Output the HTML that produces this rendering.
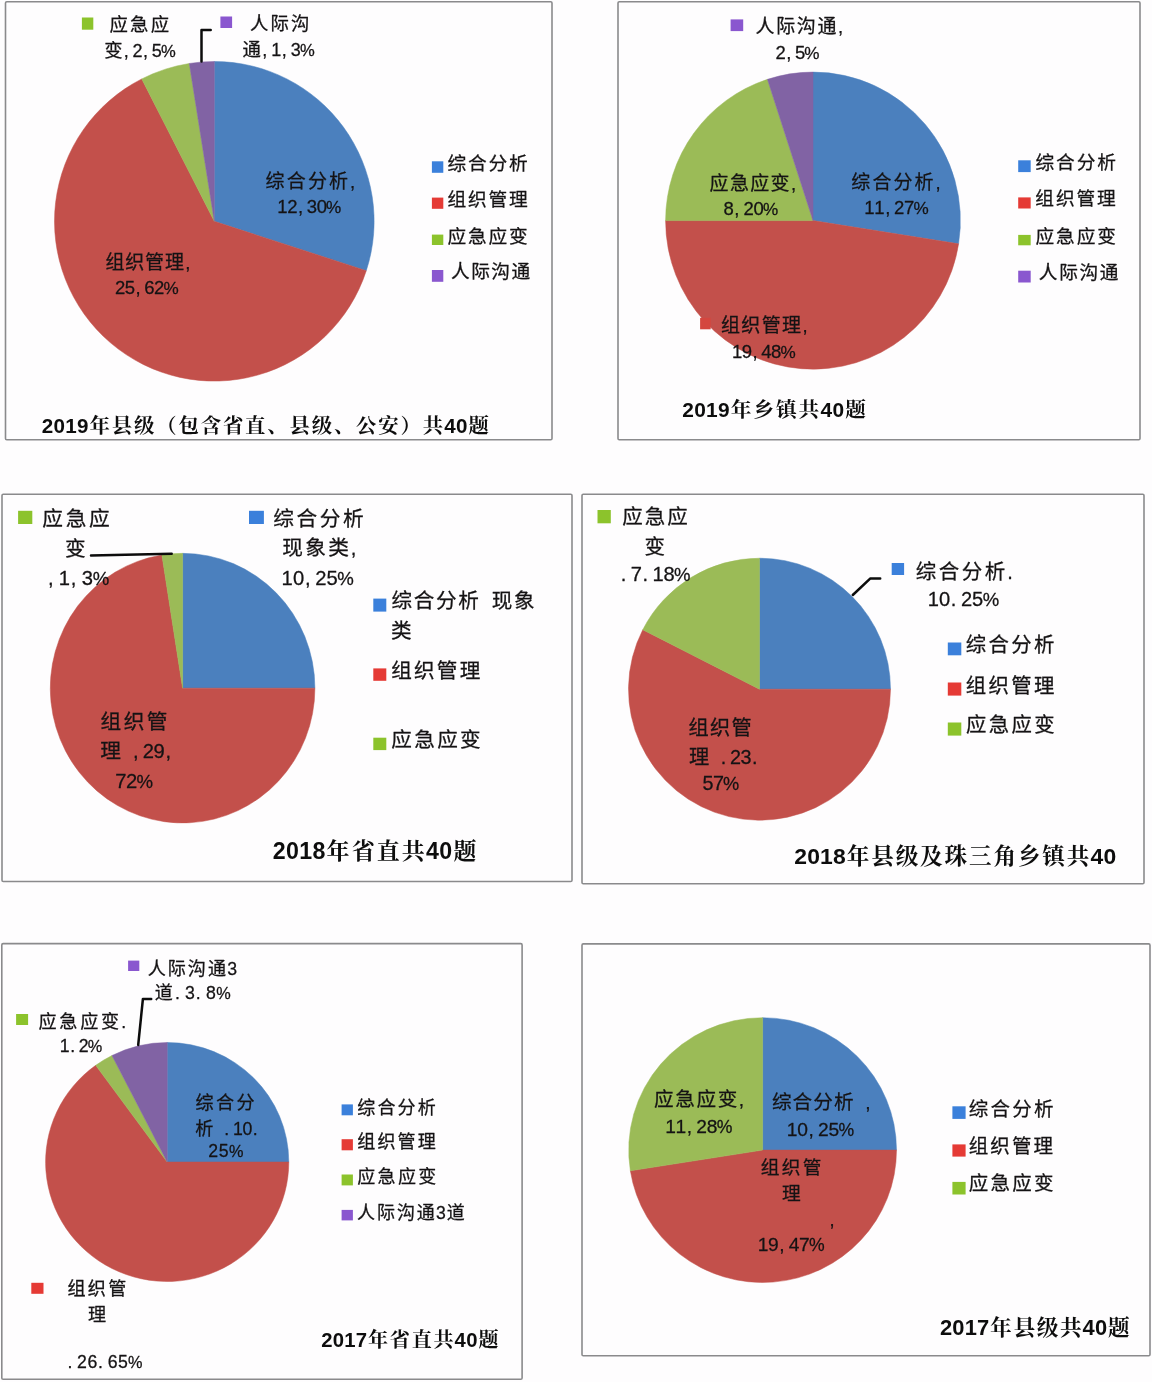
<!DOCTYPE html>
<html lang="zh-CN">
<head>
<meta charset="utf-8">
<title>题型分布饼图</title>
<style>
html,body{margin:0;padding:0;background:#fefdfe;}
body{width:1152px;height:1382px;overflow:hidden;}
svg{display:block;}
text{white-space:pre;}
.l{font-family:"Liberation Sans","Noto Sans CJK SC",sans-serif;font-weight:400;fill:#151314;stroke:#151314;stroke-width:0.28px;stroke-linejoin:round;}
.t{font-family:"Liberation Sans","Noto Serif CJK SC",serif;font-weight:bold;fill:#0d0d0d;}
</style>
</head>
<body>
<svg width="1152" height="1382" viewBox="0 0 1152 1382">
<rect x="0" y="0" width="1152" height="1382" fill="#fefdfe"/>
<rect x="5.5" y="1.8" width="546.5" height="438.0" rx="1.3" fill="none" stroke="#8a8a8c" stroke-width="1.6"/>
<rect x="618" y="1.8" width="522.0" height="438.0" rx="1.3" fill="none" stroke="#8a8a8c" stroke-width="1.6"/>
<rect x="2" y="494.2" width="570.0" height="387.3" rx="1.3" fill="none" stroke="#8a8a8c" stroke-width="1.6"/>
<rect x="582" y="494.2" width="562.0" height="389.6" rx="1.3" fill="none" stroke="#8a8a8c" stroke-width="1.6"/>
<rect x="1.8" y="943.6" width="520.3" height="435.6" rx="1.3" fill="none" stroke="#8a8a8c" stroke-width="1.6"/>
<rect x="582" y="943.9" width="568.0" height="411.9" rx="1.3" fill="none" stroke="#8a8a8c" stroke-width="1.6"/>
<g id="pies">
<path d="M214.30,221.30 L214.30,61.50 A159.80,159.80 0 0 1 366.28,270.68 Z" fill="#4b80be" stroke="#4b80be" stroke-width="0.5" stroke-linejoin="round"/>
<path d="M214.30,221.30 L366.28,270.68 A159.80,159.80 0 1 1 141.75,78.92 Z" fill="#c3504b" stroke="#c3504b" stroke-width="0.5" stroke-linejoin="round"/>
<path d="M214.30,221.30 L141.75,78.92 A159.80,159.80 0 0 1 189.30,63.47 Z" fill="#9bbb57" stroke="#9bbb57" stroke-width="0.5" stroke-linejoin="round"/>
<path d="M214.30,221.30 L189.30,63.47 A159.80,159.80 0 0 1 214.30,61.50 Z" fill="#8163a4" stroke="#8163a4" stroke-width="0.5" stroke-linejoin="round"/>
<path d="M813.00,220.60 L813.00,72.10 A147.40,148.50 0 0 1 958.59,243.83 Z" fill="#4b80be" stroke="#4b80be" stroke-width="0.5" stroke-linejoin="round"/>
<path d="M813.00,220.60 L958.59,243.83 A147.40,148.50 0 0 1 665.60,220.60 Z" fill="#c3504b" stroke="#c3504b" stroke-width="0.5" stroke-linejoin="round"/>
<path d="M813.00,220.60 L665.60,220.60 A147.40,148.50 0 0 1 767.45,79.37 Z" fill="#9bbb57" stroke="#9bbb57" stroke-width="0.5" stroke-linejoin="round"/>
<path d="M813.00,220.60 L767.45,79.37 A147.40,148.50 0 0 1 813.00,72.10 Z" fill="#8163a4" stroke="#8163a4" stroke-width="0.5" stroke-linejoin="round"/>
<path d="M182.60,688.15 L182.60,553.35 A132.30,134.80 0 0 1 314.90,688.15 Z" fill="#4b80be" stroke="#4b80be" stroke-width="0.5" stroke-linejoin="round"/>
<path d="M182.60,688.15 L314.90,688.15 A132.30,134.80 0 1 1 161.90,555.01 Z" fill="#c3504b" stroke="#c3504b" stroke-width="0.5" stroke-linejoin="round"/>
<path d="M182.60,688.15 L161.90,555.01 A132.30,134.80 0 0 1 182.60,553.35 Z" fill="#9bbb57" stroke="#9bbb57" stroke-width="0.5" stroke-linejoin="round"/>
<path d="M759.50,689.20 L759.50,558.20 A131.00,131.00 0 0 1 890.50,689.20 Z" fill="#4b80be" stroke="#4b80be" stroke-width="0.5" stroke-linejoin="round"/>
<path d="M759.50,689.20 L890.50,689.20 A131.00,131.00 0 1 1 642.78,629.73 Z" fill="#c3504b" stroke="#c3504b" stroke-width="0.5" stroke-linejoin="round"/>
<path d="M759.50,689.20 L642.78,629.73 A131.00,131.00 0 0 1 759.50,558.20 Z" fill="#9bbb57" stroke="#9bbb57" stroke-width="0.5" stroke-linejoin="round"/>
<path d="M167.20,1162.00 L167.20,1042.50 A121.60,119.50 0 0 1 288.80,1162.00 Z" fill="#4b80be" stroke="#4b80be" stroke-width="0.5" stroke-linejoin="round"/>
<path d="M167.20,1162.00 L288.80,1162.00 A121.60,119.50 0 1 1 95.73,1065.32 Z" fill="#c3504b" stroke="#c3504b" stroke-width="0.5" stroke-linejoin="round"/>
<path d="M167.20,1162.00 L95.73,1065.32 A121.60,119.50 0 0 1 111.99,1055.52 Z" fill="#9bbb57" stroke="#9bbb57" stroke-width="0.5" stroke-linejoin="round"/>
<path d="M167.20,1162.00 L111.99,1055.52 A121.60,119.50 0 0 1 167.20,1042.50 Z" fill="#8163a4" stroke="#8163a4" stroke-width="0.5" stroke-linejoin="round"/>
<path d="M762.60,1150.10 L762.60,1017.70 A133.90,132.40 0 0 1 896.50,1150.10 Z" fill="#4b80be" stroke="#4b80be" stroke-width="0.5" stroke-linejoin="round"/>
<path d="M762.60,1150.10 L896.50,1150.10 A133.90,132.40 0 0 1 630.35,1170.81 Z" fill="#c3504b" stroke="#c3504b" stroke-width="0.5" stroke-linejoin="round"/>
<path d="M762.60,1150.10 L630.35,1170.81 A133.90,132.40 0 0 1 762.60,1017.70 Z" fill="#9bbb57" stroke="#9bbb57" stroke-width="0.5" stroke-linejoin="round"/>
</g>
<g id="markers">
<rect x="81.9" y="17.5" width="11.4" height="12.2" fill="#8cc32c"/>
<rect x="220.4" y="16.5" width="11.7" height="11.5" fill="#8a57cf"/>
<rect x="431.9" y="161.3" width="11.4" height="11.5" fill="#3b80db"/>
<rect x="431.9" y="197.6" width="11.4" height="11.2" fill="#e53a35"/>
<rect x="431.9" y="234.6" width="11.4" height="10.4" fill="#8cc32c"/>
<rect x="431.9" y="270.0" width="11.4" height="11.8" fill="#8a57cf"/>
<rect x="730.6" y="19.4" width="12.6" height="11.7" fill="#8a57cf"/>
<rect x="700.1" y="317.8" width="10.6" height="11.5" fill="#d4463f"/>
<rect x="1018.2" y="160.3" width="12.5" height="11.8" fill="#3b80db"/>
<rect x="1018.2" y="197.4" width="12.5" height="11.1" fill="#e53a35"/>
<rect x="1018.2" y="234.9" width="12.5" height="10.4" fill="#8cc32c"/>
<rect x="1018.2" y="270.7" width="12.5" height="11.8" fill="#8a57cf"/>
<rect x="18.1" y="510.8" width="14.2" height="13.2" fill="#8cc32c"/>
<rect x="249.0" y="510.8" width="14.9" height="13.2" fill="#3b80db"/>
<rect x="373.3" y="598.6" width="13.0" height="13.0" fill="#3b80db"/>
<rect x="373.3" y="668.4" width="13.0" height="12.4" fill="#e53a35"/>
<rect x="373.3" y="737.7" width="13.0" height="12.4" fill="#8cc32c"/>
<rect x="597.5" y="510.0" width="13.3" height="13.3" fill="#8cc32c"/>
<rect x="891.7" y="563.0" width="12.4" height="12.0" fill="#3b80db"/>
<rect x="947.8" y="642.5" width="13.5" height="12.8" fill="#3b80db"/>
<rect x="947.8" y="682.5" width="13.5" height="13.1" fill="#e53a35"/>
<rect x="947.8" y="722.5" width="13.5" height="13.1" fill="#8cc32c"/>
<rect x="128.1" y="960.6" width="11.2" height="10.4" fill="#8a57cf"/>
<rect x="16.1" y="1014.0" width="12.0" height="11.0" fill="#8cc32c"/>
<rect x="31.3" y="1282.8" width="12.2" height="11.0" fill="#e53a35"/>
<rect x="341.6" y="1104.4" width="11.3" height="10.9" fill="#3b80db"/>
<rect x="341.6" y="1139.2" width="11.3" height="11.1" fill="#e53a35"/>
<rect x="341.6" y="1174.5" width="11.3" height="10.9" fill="#8cc32c"/>
<rect x="341.6" y="1209.9" width="11.3" height="10.5" fill="#8a57cf"/>
<rect x="952.4" y="1106.3" width="13.2" height="12.6" fill="#3b80db"/>
<rect x="952.4" y="1144.4" width="13.2" height="12.2" fill="#e53a35"/>
<rect x="952.4" y="1181.9" width="13.2" height="12.6" fill="#8cc32c"/>
</g>
<g id="leaders" fill="none" stroke="#0c0c0c" stroke-width="2.5" stroke-linejoin="round" stroke-linecap="round">
<polyline points="201.5,61.5 201.5,29.9 210.7,29.9"/>
<polyline points="91.0,555.4 171.7,553.7"/>
<polyline points="852.8,595.0 870.4,578.4 880.2,578.4"/>
<polyline points="138.2,1045.0 142.9,999.0 151.2,999.0"/>
</g>
<g id="texts">
<text id="p1a1" class="l" y="30.5" font-size="18.4" text-anchor="middle"><tspan x="118.8 139.3 159.9">应急应</tspan></text>
<text id="p1a2" class="l" y="56.5" font-size="18.4" text-anchor="middle"><tspan x="113.4">变</tspan><tspan x="126.2 137.5 145.5 156.8" font-size="18.0">,2,5</tspan><tspan x="168.4" font-size="16.6">%</tspan></text>
<text id="p1b1" class="l" y="30.1" font-size="18.4" text-anchor="middle"><tspan x="259.2 279.7 300.2">人际沟</tspan></text>
<text id="p1b2" class="l" y="55.9" font-size="18.4" text-anchor="middle"><tspan x="251.8">通</tspan><tspan x="264.7 276.2 284.3 295.7" font-size="18.0">,1,3</tspan><tspan x="307.4" font-size="16.6">%</tspan></text>
<text id="p1c1" class="l" y="188.1" font-size="19.0" text-anchor="middle"><tspan x="275.0 296.2 317.4 338.6">综合分析</tspan><tspan x="352.5" font-size="18.5">,</tspan></text>
<text id="p1c2" class="l" y="212.8" font-size="19.0" text-anchor="middle"><tspan x="282.5 292.3 300.5 311.9 321.8" font-size="18.5">12,30</tspan><tspan x="333.5" font-size="17.1">%</tspan></text>
<text id="p1d1" class="l" y="268.8" font-size="19.0" text-anchor="middle"><tspan x="114.9 134.8 154.6 174.5">组织管理</tspan><tspan x="187.7" font-size="18.5">,</tspan></text>
<text id="p1d2" class="l" y="293.7" font-size="19.0" text-anchor="middle"><tspan x="120.1 129.9 138.0 149.4 159.2" font-size="18.5">25,62</tspan><tspan x="171.0" font-size="17.1">%</tspan></text>
<text id="p1l1" class="l" y="170.0" font-size="18.7" text-anchor="middle"><tspan x="456.8 477.4 497.9 518.4">综合分析</tspan></text>
<text id="p1l2" class="l" y="206.1" font-size="18.7" text-anchor="middle"><tspan x="456.8 477.4 497.9 518.4">组织管理</tspan></text>
<text id="p1l3" class="l" y="242.7" font-size="18.7" text-anchor="middle"><tspan x="456.8 477.4 497.9 518.4">应急应变</tspan></text>
<text id="p1l4" class="l" y="278.3" font-size="18.7" text-anchor="middle"><tspan x="460.3 480.5 500.7 520.9">人际沟通</tspan></text>
<text id="p1t" class="t" y="433.0" font-size="20.4" text-anchor="middle"><tspan x="47.5 59.3 71.0 82.8" font-size="20.6">2019</tspan><tspan x="99.8 122.0 144.2 166.4 188.6 210.9 233.1 255.3 277.5 299.7 321.9 344.1 366.3 388.5 410.7 433.0">年县级（包含省直、县级、公安）共</tspan><tspan x="449.9 461.7" font-size="20.6">40</tspan><tspan x="478.7">题</tspan></text>
<text id="p2a1" class="l" y="33.3" font-size="19.0" text-anchor="middle"><tspan x="765.1 785.7 806.3 826.9">人际沟通</tspan><tspan x="840.5" font-size="18.5">,</tspan></text>
<text id="p2a2" class="l" y="58.9" font-size="19.0" text-anchor="middle"><tspan x="780.6 788.8 800.1" font-size="18.5">2,5</tspan><tspan x="811.9" font-size="17.1">%</tspan></text>
<text id="p2b1" class="l" y="190.3" font-size="19.0" text-anchor="middle"><tspan x="719.1 739.4 759.8 780.1">应急应变</tspan><tspan x="793.6" font-size="18.5">,</tspan></text>
<text id="p2b2" class="l" y="215.4" font-size="19.0" text-anchor="middle"><tspan x="728.6 736.9 748.6 758.6" font-size="18.5">8,20</tspan><tspan x="770.6" font-size="17.1">%</tspan></text>
<text id="p2c1" class="l" y="188.6" font-size="19.0" text-anchor="middle"><tspan x="860.7 881.9 903.0 924.1">综合分析</tspan><tspan x="938.0" font-size="18.5">,</tspan></text>
<text id="p2c2" class="l" y="213.7" font-size="19.0" text-anchor="middle"><tspan x="869.5 879.4 887.7 899.2 909.1" font-size="18.5">11,27</tspan><tspan x="921.0" font-size="17.1">%</tspan></text>
<text id="p2d1" class="l" y="332.1" font-size="19.0" text-anchor="middle"><tspan x="730.5 750.8 771.2 791.5">组织管理</tspan><tspan x="805.0" font-size="18.5">,</tspan></text>
<text id="p2d2" class="l" y="357.5" font-size="19.0" text-anchor="middle"><tspan x="737.1 746.9 755.0 766.4 776.2" font-size="18.5">19,48</tspan><tspan x="788.0" font-size="17.1">%</tspan></text>
<text id="p2l1" class="l" y="169.3" font-size="18.7" text-anchor="middle"><tspan x="1044.8 1065.4 1086.1 1106.7">综合分析</tspan></text>
<text id="p2l2" class="l" y="205.2" font-size="18.7" text-anchor="middle"><tspan x="1044.7 1065.3 1085.8 1106.3">组织管理</tspan></text>
<text id="p2l3" class="l" y="243.0" font-size="18.7" text-anchor="middle"><tspan x="1044.8 1065.4 1086.1 1106.7">应急应变</tspan></text>
<text id="p2l4" class="l" y="279.0" font-size="18.7" text-anchor="middle"><tspan x="1048.1 1068.5 1088.8 1109.1">人际沟通</tspan></text>
<text id="p2t" class="t" y="416.6" font-size="20.7" text-anchor="middle"><tspan x="688.0 700.0 711.9 723.9" font-size="20.9">2019</tspan><tspan x="741.2 763.8 786.4 808.9">年乡镇共</tspan><tspan x="826.2 838.2" font-size="20.9">40</tspan><tspan x="855.5">题</tspan></text>
<text id="p3a1" class="l" y="525.5" font-size="20.7" text-anchor="middle"><tspan x="52.7 76.1 99.4">应急应</tspan></text>
<text id="p3a2" class="l" y="556.0" font-size="20.7" text-anchor="middle"><tspan x="75.3">变</tspan></text>
<text id="p3a3" class="l" y="585.0" font-size="20.7" text-anchor="middle"><tspan x="50.7 64.3 73.6 87.3" font-size="20.2">,1,3</tspan><tspan x="101.0" font-size="18.6">%</tspan></text>
<text id="p3b1" class="l" y="525.7" font-size="20.7" text-anchor="middle"><tspan x="283.5 306.8 330.1 353.4">综合分析</tspan></text>
<text id="p3b2" class="l" y="554.9" font-size="20.7" text-anchor="middle"><tspan x="292.6 315.5 338.5">现象类</tspan><tspan x="353.5" font-size="20.2">,</tspan></text>
<text id="p3b3" class="l" y="585.0" font-size="20.7" text-anchor="middle"><tspan x="287.2 298.5 307.7 320.9 332.2" font-size="20.2">10,25</tspan><tspan x="345.6" font-size="18.6">%</tspan></text>
<text id="p3c1" class="l" y="729.3" font-size="20.7" text-anchor="middle"><tspan x="110.8 134.0 157.1">组织管</tspan></text>
<text id="p3c2" class="l" y="757.9" font-size="20.7" text-anchor="middle"><tspan x="110.7">理</tspan><tspan x="126.9 135.8 148.4 159.2 168.2" font-size="20.2"> ,29,</tspan></text>
<text id="p3c3" class="l" y="788.1" font-size="20.7" text-anchor="middle"><tspan x="120.9 131.7" font-size="20.2">72</tspan><tspan x="144.7" font-size="18.6">%</tspan></text>
<text id="p3l1" class="l" y="608.0" font-size="20.6" text-anchor="middle"><tspan x="401.8 424.0 446.3 468.6">综合分析</tspan><tspan x="485.4" font-size="20.2"> </tspan><tspan x="502.1 524.4">现象</tspan></text>
<text id="p3l1b" class="l" y="638.1" font-size="20.6" text-anchor="middle"><tspan x="401.3">类</tspan></text>
<text id="p3l2" class="l" y="677.5" font-size="20.6" text-anchor="middle"><tspan x="401.5 424.3 447.1 470.0">组织管理</tspan></text>
<text id="p3l3" class="l" y="747.4" font-size="20.6" text-anchor="middle"><tspan x="401.6 424.5 447.5 470.4">应急应变</tspan></text>
<text id="p3t" class="t" y="859.3" font-size="23.0" text-anchor="middle"><tspan x="279.1 292.4 305.7 319.0" font-size="23.2">2018</tspan><tspan x="338.1 363.2 388.2 413.3">年省直共</tspan><tspan x="432.4 445.7" font-size="23.2">40</tspan><tspan x="464.9">题</tspan></text>
<text id="p4a1" class="l" y="524.3" font-size="20.5" text-anchor="middle"><tspan x="632.6 655.1 677.6">应急应</tspan></text>
<text id="p4a2" class="l" y="553.5" font-size="20.5" text-anchor="middle"><tspan x="654.8">变</tspan></text>
<text id="p4a3" class="l" y="580.6" font-size="20.5" text-anchor="middle"><tspan x="623.6 636.4 645.4 658.2 669.1" font-size="20.1">.7.18</tspan><tspan x="682.2" font-size="18.5">%</tspan></text>
<text id="p4b1" class="l" y="578.5" font-size="20.5" text-anchor="middle"><tspan x="925.9 948.9 972.0 995.0">综合分析</tspan><tspan x="1010.1" font-size="20.1">.</tspan></text>
<text id="p4b2" class="l" y="606.0" font-size="20.5" text-anchor="middle"><tspan x="933.4 944.5 953.6 966.7 977.7" font-size="20.1">10.25</tspan><tspan x="991.0" font-size="18.5">%</tspan></text>
<text id="p4c1" class="l" y="734.7" font-size="20.2" text-anchor="middle"><tspan x="698.7 720.2 741.6">组织管</tspan></text>
<text id="p4c2" class="l" y="764.4" font-size="20.2" text-anchor="middle"><tspan x="699.0">理</tspan><tspan x="714.6 723.4 735.5 746.0 754.7" font-size="19.8"> .23.</tspan></text>
<text id="p4c3" class="l" y="790.0" font-size="20.2" text-anchor="middle"><tspan x="707.9 718.5" font-size="19.8">57</tspan><tspan x="731.2" font-size="18.2">%</tspan></text>
<text id="p4l1" class="l" y="652.2" font-size="20.4" text-anchor="middle"><tspan x="976.0 998.7 1021.4 1044.1">综合分析</tspan></text>
<text id="p4l2" class="l" y="692.6" font-size="20.4" text-anchor="middle"><tspan x="976.0 998.7 1021.4 1044.1">组织管理</tspan></text>
<text id="p4l3" class="l" y="731.8" font-size="20.4" text-anchor="middle"><tspan x="976.1 998.9 1021.7 1044.5">应急应变</tspan></text>
<text id="p4t" class="t" y="863.5" font-size="22.6" text-anchor="middle"><tspan x="800.5 813.5 826.4 839.4" font-size="22.9">2018</tspan><tspan x="858.1 882.5 907.0 931.4 955.9 980.3 1004.8 1029.2 1053.6 1078.1">年县级及珠三角乡镇共</tspan><tspan x="1096.8 1109.8" font-size="22.9">40</tspan></text>
<text id="p5a1" class="l" y="974.8" font-size="18.1" text-anchor="middle"><tspan x="156.7 176.8 196.9 217.1">人际沟通</tspan><tspan x="232.2" font-size="17.7">3</tspan></text>
<text id="p5a2" class="l" y="999.2" font-size="18.1" text-anchor="middle"><tspan x="163.9">道</tspan><tspan x="177.4 190.0 198.3 210.8" font-size="17.7">.3.8</tspan><tspan x="223.4" font-size="16.3">%</tspan></text>
<text id="p5b1" class="l" y="1027.5" font-size="18.1" text-anchor="middle"><tspan x="47.6 68.4 89.2 110.0">应急应变</tspan><tspan x="123.6" font-size="17.7">.</tspan></text>
<text id="p5b2" class="l" y="1052.0" font-size="18.1" text-anchor="middle"><tspan x="64.7 72.6 83.7" font-size="17.7">1.2</tspan><tspan x="95.1" font-size="16.3">%</tspan></text>
<text id="p5c1" class="l" y="1108.9" font-size="18.1" text-anchor="middle"><tspan x="204.6 225.1 245.5">综合分</tspan></text>
<text id="p5c2" class="l" y="1134.7" font-size="18.1" text-anchor="middle"><tspan x="204.4">析</tspan><tspan x="218.7 226.7 237.8 247.4 255.3" font-size="17.7"> .10.</tspan></text>
<text id="p5c3" class="l" y="1156.7" font-size="18.1" text-anchor="middle"><tspan x="213.2 223.7" font-size="17.7">25</tspan><tspan x="236.2" font-size="16.3">%</tspan></text>
<text id="p5d1" class="l" y="1295.1" font-size="18.1" text-anchor="middle"><tspan x="76.6 96.9 117.2">组织管</tspan></text>
<text id="p5d2" class="l" y="1321.2" font-size="18.1" text-anchor="middle"><tspan x="97.1">理</tspan></text>
<text id="p5d3" class="l" y="1368.0" font-size="18.1" text-anchor="middle"><tspan x="69.9 82.0 92.3 100.5 112.7 122.9" font-size="17.7">.26.65</tspan><tspan x="135.2" font-size="16.3">%</tspan></text>
<text id="p5l1" class="l" y="1113.6" font-size="18.0" text-anchor="middle"><tspan x="366.2 386.4 406.5 426.7">综合分析</tspan></text>
<text id="p5l2" class="l" y="1148.2" font-size="18.0" text-anchor="middle"><tspan x="366.2 386.4 406.5 426.7">组织管理</tspan></text>
<text id="p5l3" class="l" y="1183.2" font-size="18.0" text-anchor="middle"><tspan x="366.3 386.6 406.9 427.2">应急应变</tspan></text>
<text id="p5l4" class="l" y="1218.6" font-size="18.0" text-anchor="middle"><tspan x="366.1 386.0 405.9 425.8">人际沟通</tspan><tspan x="440.8" font-size="17.6">3</tspan><tspan x="455.7">道</tspan></text>
<text id="p5t" class="t" y="1347.4" font-size="20.1" text-anchor="middle"><tspan x="326.8 338.4 349.9 361.5" font-size="20.3">2017</tspan><tspan x="378.1 399.9 421.7 443.5">年省直共</tspan><tspan x="460.2 471.8" font-size="20.3">40</tspan><tspan x="488.5">题</tspan></text>
<text id="p6a1" class="l" y="1105.8" font-size="19.6" text-anchor="middle"><tspan x="663.9 685.1 706.3 727.5">应急应变</tspan><tspan x="741.5" font-size="19.2">,</tspan></text>
<text id="p6a2" class="l" y="1132.7" font-size="19.6" text-anchor="middle"><tspan x="670.5 680.9 689.5 701.7 712.1" font-size="19.2">11,28</tspan><tspan x="724.6" font-size="17.6">%</tspan></text>
<text id="p6b1" class="l" y="1109.2" font-size="19.6" text-anchor="middle"><tspan x="781.7 802.4 823.0 843.7">综合分析</tspan><tspan x="859.2 867.8" font-size="19.2"> ,</tspan></text>
<text id="p6b2" class="l" y="1135.7" font-size="19.6" text-anchor="middle"><tspan x="792.2 802.6 811.2 823.4 833.8" font-size="19.2">10,25</tspan><tspan x="846.3" font-size="17.6">%</tspan></text>
<text id="p6c1" class="l" y="1173.6" font-size="18.7" text-anchor="middle"><tspan x="770.1 791.0 812.0">组织管</tspan></text>
<text id="p6c2" class="l" y="1200.1" font-size="18.7" text-anchor="middle"><tspan x="791.4">理</tspan></text>
<text id="p6c3" class="l" y="1226.1" font-size="18.7" text-anchor="middle"><tspan x="832.0" font-size="18.3">,</tspan></text>
<text id="p6c4" class="l" y="1250.8" font-size="19.6" text-anchor="middle"><tspan x="763.0 773.4 782.0 794.1 804.4" font-size="19.2">19,47</tspan><tspan x="816.8" font-size="17.6">%</tspan></text>
<text id="p6l1" class="l" y="1115.6" font-size="19.5" text-anchor="middle"><tspan x="978.6 1000.3 1022.0 1043.7">综合分析</tspan></text>
<text id="p6l2" class="l" y="1153.4" font-size="19.5" text-anchor="middle"><tspan x="978.5 1000.1 1021.7 1043.2">组织管理</tspan></text>
<text id="p6l3" class="l" y="1190.2" font-size="19.5" text-anchor="middle"><tspan x="978.6 1000.3 1022.0 1043.7">应急应变</tspan></text>
<text id="p6t" class="t" y="1334.9" font-size="21.7" text-anchor="middle"><tspan x="946.0 958.4 970.8 983.1" font-size="21.9">2017</tspan><tspan x="1000.9 1024.3 1047.6 1070.9">年县级共</tspan><tspan x="1088.7 1101.1" font-size="21.9">40</tspan><tspan x="1118.9">题</tspan></text>
</g>
</svg>
</body>
</html>
